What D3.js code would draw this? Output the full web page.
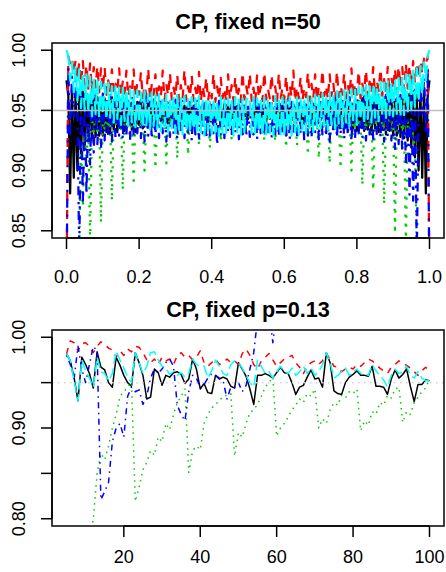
<!DOCTYPE html>
<html>
<head>
<meta charset="utf-8">
<script src="https://cdn.jsdelivr.net/npm/d3@7"></script>
<style>
  body { margin: 0; background: #fff; }
  svg { display: block; }
  text { font-family: "Liberation Sans", Arial, Helvetica, sans-serif; fill: #000; }
</style>
</head>
<body>
<script>
var width = 446,
    height = 572;

// ---- top panel: coverage vs p, n = 50 (p read every 0.005) ----
var pGrid = d3.range(0, 201).map(function (k) { return k / 200; });

var blackN50 = [
  .975,.962,.881,.968,.894,.965,.900,.963,.911,.966,
  .919,.964,.925,.962,.927,.960,.928,.961,.929,.959,
  .929,.960,.932,.958,.930,.961,.934,.957,.932,.959,
  .936,.958,.933,.960,.937,.956,.934,.958,.932,.957,
  .938,.959,.935,.956,.939,.958,.936,.955,.940,.957,
  .937,.958,.941,.955,.938,.957,.936,.954,.940,.956,
  .942,.955,.939,.957,.941,.954,.938,.956,.942,.953,
  .939,.956,.943,.954,.940,.955,.942,.953,.939,.956,
  .943,.954,.940,.955,.944,.953,.941,.956,.943,.954,
  .940,.955,.944,.953,.942,.956,.941,.954,.945,.953,
  .943,
  .953,.945,.954,.941,.956,.942,.953,.944,.955,.940,
  .953,.943,.956,.941,.953,.944,.955,.940,.954,.943,
  .956,.939,.953,.942,.955,.940,.954,.943,.957,.939,
  .956,.942,.953,.938,.957,.941,.954,.939,.955,.942,
  .957,.940,.955,.936,.958,.939,.956,.935,.959,.937,
  .957,.940,.954,.936,.958,.938,.956,.935,.959,.933,
  .958,.936,.960,.933,.957,.934,.961,.930,.958,.935,
  .959,.932,.957,.934,.961,.930,.958,.933,.960,.929,
  .959,.929,.961,.928,.960,.927,.962,.925,.964,.919,
  .966,.911,.963,.900,.965,.894,.968,.881,.962,.975
];

var redN50 = [
  .800,.995,.988,.993,.980,.992,.976,.990,.972,.991,
  .970,.988,.968,.989,.966,.986,.969,.987,.965,.985,
  .967,.986,.963,.975,.965,.984,.962,.972,.966,.985,
  .962,.974,.964,.983,.961,.970,.965,.984,.960,.973,
  .963,.982,.960,.971,.962,.985,.959,.972,.963,.980,
  .960,.970,.961,.983,.958,.972,.962,.981,.959,.969,
  .961,.980,.958,.971,.960,.984,.958,.970,.961,.979,
  .958,.969,.960,.982,.957,.971,.961,.978,.958,.968,
  .960,.981,.957,.970,.959,.977,.960,.969,.957,.980,
  .959,.971,.958,.978,.960,.968,.957,.982,.959,.970,
  .962,
  .981,.958,.969,.957,.979,.960,.970,.958,.982,.959,
  .968,.960,.980,.958,.970,.957,.981,.960,.969,.959,
  .979,.958,.971,.961,.983,.957,.970,.960,.978,.958,
  .969,.961,.982,.958,.972,.960,.980,.958,.970,.961,
  .984,.962,.971,.959,.980,.962,.973,.958,.983,.961,
  .971,.963,.981,.959,.972,.962,.985,.960,.973,.963,
  .983,.960,.972,.965,.984,.961,.974,.964,.986,.962,
  .975,.966,.985,.962,.976,.965,.986,.963,.978,.967,
  .985,.965,.987,.969,.986,.966,.989,.968,.988,.970,
  .991,.972,.990,.976,.992,.980,.993,.988,.995,.800
];

var greenN50 = [
  .000,.220,.390,.530,.630,.720,.800,.835,.920,.870,.930,.905,.940,
  .838,.944,.932,.947,.930,.945,
  .857,.944,.934,.947,.935,.945,
  .875,.944,.936,.947,.934,.946,
  .884,.945,.935,.948,.937,.946,
  .888,.945,.937,.948,.936,.947,
  .900,.946,.938,.948,.937,.947,
  .902,.946,.939,.949,.938,.947,
  .906,.946,.938,.949,.940,.948,
  .910,.947,.940,.949,.939,.948,
  .913,.947,.941,.950,.940,.948,
  .921,.947,.940,.950,.941,.948,
  .919,.948,.942,.950,.941,.949,
  .924,.948,.941,.950,.942,.949,
  .925,.948,.942,.950,.941,.949,
  .927,.948,.942,.950,
  .941,.949,
  .927,.945,.936,.947,.938,.944,
  .925,.945,.937,.948,.938,.944,
  .924,.946,.936,.948,.939,.944,
  .919,.945,.937,.947,.938,.945,
  .921,.945,.936,.948,.937,.944,
  .913,.946,.936,.947,.938,.944,
  .910,.945,.935,.948,.937,.944,
  .906,.945,.936,.947,.936,.943,
  .902,.944,.935,.947,.937,.943,
  .900,.945,.934,.946,.936,.943,
  .888,.944,.934,.946,.935,.942,
  .884,.944,.933,.946,.934,.942,
  .872,.943,.932,.945,.933,.941,
  .848,.943,.931,.945,.932,.940,
  .836,.942,.930,.944,.928,.920,
  .835,.800,.720,.630,.530,.390,.220,.000
];

var blueN50 = [
  .800,.985,.930,.978,.945,.975,.950,.830,.968,.875,
  .965,.880,.962,.905,.966,.915,.963,.922,.960,.918,
  .964,.925,.961,.928,.963,.924,.960,.927,.962,.929,
  .959,.926,.961,.930,.958,.925,.962,.928,.957,.931,
  .960,.927,.958,.924,.961,.929,.957,.926,.959,.930,
  .956,.927,.960,.931,.957,.924,.958,.928,.955,.930,
  .959,.926,.956,.932,.958,.927,.955,.929,.957,.925,
  .954,.930,.958,.927,.955,.931,.957,.926,.954,.929,
  .957,.931,.955,.921,.958,.930,.954,.927,.956,.932,
  .953,.929,.957,.931,.955,.926,.958,.930,.954,.928,
  .956,
  .928,.954,.930,.958,.926,.955,.931,.957,.929,.953,
  .932,.956,.927,.954,.930,.958,.928,.955,.931,.957,
  .929,.954,.926,.957,.931,.955,.927,.958,.930,.954,
  .925,.957,.929,.955,.927,.958,.932,.956,.926,.959,
  .930,.955,.928,.958,.924,.957,.931,.960,.927,.956,
  .930,.959,.926,.957,.929,.961,.924,.958,.927,.960,
  .931,.957,.928,.962,.925,.958,.930,.961,.926,.959,
  .929,.963,.927,.960,.924,.963,.928,.961,.925,.964,
  .918,.960,.922,.963,.915,.966,.905,.962,.880,.965,
  .875,.968,.830,.950,.975,.945,.978,.930,.985,.800
];

var cyanN50 = [
  1.00,.995,.975,.990,.965,.986,.958,.984,.952,.982,
  .950,.980,.948,.978,.945,.977,.947,.975,.944,.974,
  .946,.972,.942,.973,.944,.970,.940,.971,.943,.969,
  .938,.970,.941,.967,.937,.968,.940,.966,.936,.967,
  .939,.965,.935,.966,.938,.964,.934,.965,.937,.963,
  .935,.964,.933,.962,.936,.963,.932,.961,.935,.962,
  .931,.963,.934,.960,.930,.962,.933,.959,.931,.961,
  .934,.960,.930,.962,.932,.958,.929,.961,.933,.959,
  .930,.960,.932,.958,.929,.961,.931,.959,.930,.960,
  .933,.958,.929,.961,.931,.959,.930,.960,.932,.958,
  .962,
  .959,.931,.961,.930,.960,.932,.958,.929,.961,.930,
  .960,.931,.959,.929,.962,.932,.958,.930,.961,.930,
  .959,.933,.961,.929,.958,.932,.962,.930,.960,.934,
  .961,.931,.962,.935,.961,.932,.963,.936,.962,.935,
  .964,.937,.963,.934,.965,.938,.964,.935,.966,.939,
  .965,.936,.967,.940,.966,.937,.968,.941,.967,.938,
  .970,.942,.969,.939,.971,.943,.970,.940,.972,.944,
  .971,.941,.974,.945,.973,.942,.975,.946,.974,.945,
  .976,.947,.977,.944,.978,.946,.980,.948,.981,.951,
  .983,.953,.985,.957,.987,.963,.990,.975,.996,1.00
];

// ---- bottom panel: coverage vs n, p = 0.13 ----
var nGrid = d3.range(5, 101);

var blackP13 = [
  .982,.974,.955,.930,.978,.970,.960,.944,.984,.967,
  .964,.950,.945,.978,.969,.958,.950,.946,.983,.972,
  .958,.932,.934,.965,.961,.947,.958,.956,.961,.962,
  .959,.949,.954,.976,.965,.943,.949,.939,.938,.958,
  .954,.956,.954,.946,.944,.972,.965,.957,.943,.926,
  .958,.958,.960,.958,.955,.961,.967,.961,.960,.950,
  .937,.945,.947,.956,.964,.954,.955,.945,.983,.972,
  .941,.938,.937,.950,.956,.959,.963,.958,.958,.957,
  .968,.946,.946,.945,.937,.954,.964,.955,.959,.965,
  .946,.929,.948,.948,.953,.952
];

var redP13 = [
  .982,.996,.994,.985,.993,.994,.990,.983,.990,.995,
  .992,.988,.986,.978,.985,.980,.987,.984,.990,.989,
  .983,.975,.972,.976,.970,.978,.974,.976,.970,.980,
  .983,.978,.980,.975,.978,.985,.972,.968,.972,.976,
  .970,.972,.976,.972,.974,.970,.982,.987,.980,.970,
  .965,.974,.978,.982,.975,.968,.972,.976,.978,.980,
  .972,.967,.960,.968,.972,.974,.970,.974,.982,.976,
  .968,.967,.962,.965,.967,.965,.970,.968,.972,.976,
  .974,.970,.966,.963,.960,.967,.970,.974,.972,.969,
  .966,.962,.958,.963,.967,.963
];

var greenP13 = [
  .600,.660,.700,.720,.740,.760,.780,.799,.850,.872,
  .865,.880,.900,.915,.935,.940,.945,.950,.819,.835,
  .854,.862,.875,.870,.890,.885,.905,.898,.915,.928,
  .935,.943,.851,.875,.880,.876,.905,.915,.922,.926,
  .930,.935,.936,.938,.869,.895,.890,.905,.917,.920,
  .926,.935,.945,.950,.956,.891,.900,.905,.912,.920,
  .925,.932,.928,.938,.935,.943,.900,.910,.905,.920,
  .928,.925,.936,.933,.940,.938,.943,.897,.908,.903,
  .918,.915,.928,.925,.936,.933,.943,.945,.906,.918,
  .915,.928,.934,.940,.944,.954
];

// blue leaves the plotted range after n = 60
var blueP13 = [
  .980,.970,.955,.990,.965,.950,.970,.990,.985,.821,
  .830,.840,.885,.900,.905,.890,.935,.945,.940,.942,
  .926,.935,.955,.965,.960,.965,.972,.976,.968,.925,
  .915,.908,.940,.958,.955,.944,.948,.955,.960,.958,
  .955,.952,.932,.945,.945,.950,.940,.947,.965,.983,
  1.02,1.03,1.03,1.03,.994,1.03,null,null,null,null,
  null,null,null,null,null,null,null,null,null,null,
  null,null,null,null,null,null,null,null,null,null,
  null,null,null,null,null,null,null,null,null,null,
  null,null,null,null,null,null
];

var cyanP13 = [
  .982,.974,.952,.930,.975,.963,.955,.945,.978,.962,
  .960,.952,.960,.985,.975,.966,.956,.950,.983,.972,
  .960,.968,.983,.984,.975,.968,.966,.959,.962,.958,
  .961,.956,.960,.976,.970,.968,.968,.955,.963,.975,
  .968,.960,.958,.970,.974,.972,.966,.958,.950,.945,
  .975,.968,.960,.962,.955,.962,.968,.962,.960,.966,
  .958,.962,.968,.960,.966,.958,.962,.970,.983,.972,
  .955,.958,.962,.966,.958,.962,.965,.960,.960,.958,
  .970,.963,.958,.953,.945,.958,.965,.960,.962,.968,
  .958,.955,.962,.955,.952,.952
];

var xTicksTop = [0, 0.2, 0.4, 0.6, 0.8, 1.0];
var yTicksTop = [0.85, 0.90, 0.95, 1.00];
var yLabelsTop = [0.85, 0.90, 0.95, 1.00];
var xTicksBot = [20, 40, 60, 80, 100];
var yTicksBot = [0.80, 0.85, 0.90, 0.95, 1.00];
var yLabelsBot = [0.80, 0.90, 1.00];

// R's default palette 1..5 and lty 1..5
var colors = ["#000000", "#FF0000", "#00CD00", "#0000FF", "#00FFFF"];
var dashes = [null, [4, 4], [1, 3], [1, 3, 4, 3], [7, 3]];
var unit = 1.5;   // device scale (px per R line-width unit)

var svg = d3.select("body").append("svg")
    .attr("width", width)
    .attr("height", height);

function padLim(lim) {
  var r = lim[1] - lim[0];
  return [lim[0] - 0.04 * r, lim[1] + 0.04 * r];
}

function drawPanel(o) {
  var left = 52, right = 444;
  var x = d3.scaleLinear().domain(padLim(o.xlim)).range([left, right]);
  var y = d3.scaleLinear().domain(padLim(o.ylim)).range([o.bottom, o.top]);

  var g = svg.append("g");

  g.append("clipPath").attr("id", o.id)
    .append("rect")
    .attr("x", left).attr("y", o.top)
    .attr("width", right - left).attr("height", o.bottom - o.top);

  var plot = g.append("g").attr("clip-path", "url(#" + o.id + ")");

  var line = d3.line()
      .defined(function (d) { return d[1] != null; })
      .x(function (d) { return x(d[0]); })
      .y(function (d) { return y(d[1]); });

  o.series.forEach(function (vals, i) {
    var pts = o.xs.map(function (v, j) { return [v, vals[j]]; });
    var lw = o.lwd * unit;
    plot.append("path")
      .datum(pts)
      .attr("d", line)
      .attr("fill", "none")
      .attr("stroke", colors[i])
      .attr("stroke-width", lw)
      .attr("stroke-linejoin", "round")
      .attr("stroke-dasharray", dashes[i] ? dashes[i].map(function (d) { return d * lw; }).join(",") : null);
  });

  // reference line at 0.95
  plot.append("line")
    .attr("x1", left).attr("x2", right)
    .attr("y1", y(0.95)).attr("y2", y(0.95))
    .attr("stroke", o.refColor)
    .attr("stroke-width", o.refWidth)
    .attr("stroke-dasharray", o.refDash);

  // box
  g.append("rect")
    .attr("x", left).attr("y", o.top)
    .attr("width", right - left).attr("height", o.bottom - o.top)
    .attr("fill", "none").attr("stroke", "#000").attr("stroke-width", 1.5);

  // x axis
  var xa = g.append("g");
  xa.append("line")
    .attr("x1", x(o.xTicks[0])).attr("x2", x(o.xTicks[o.xTicks.length - 1]))
    .attr("y1", o.bottom).attr("y2", o.bottom)
    .attr("stroke", "#000").attr("stroke-width", 1.5);
  xa.selectAll("line.tick").data(o.xTicks).enter().append("line")
    .attr("class", "tick")
    .attr("x1", function (d) { return x(d); }).attr("x2", function (d) { return x(d); })
    .attr("y1", o.bottom).attr("y2", o.bottom + 11)
    .attr("stroke", "#000").attr("stroke-width", 1.5);
  xa.selectAll("text").data(o.xTicks).enter().append("text")
    .attr("x", function (d) { return x(d); })
    .attr("y", o.xLabelY)
    .attr("text-anchor", "middle")
    .attr("font-size", 18)
    .text(o.xFormat);

  // y axis
  var ya = g.append("g");
  ya.append("line")
    .attr("x1", left).attr("x2", left)
    .attr("y1", y(o.yTicks[0])).attr("y2", y(o.yTicks[o.yTicks.length - 1]))
    .attr("stroke", "#000").attr("stroke-width", 1.5);
  ya.selectAll("line.tick").data(o.yTicks).enter().append("line")
    .attr("class", "tick")
    .attr("x1", left).attr("x2", left - 11)
    .attr("y1", function (d) { return y(d); }).attr("y2", function (d) { return y(d); })
    .attr("stroke", "#000").attr("stroke-width", 1.5);
  ya.selectAll("text").data(o.yLabels).enter().append("text")
    .attr("transform", function (d) { return "translate(25," + y(d) + ") rotate(-90)"; })
    .attr("text-anchor", "middle")
    .attr("font-size", 18)
    .text(d3.format(".2f"));

  // title
  g.append("text")
    .attr("x", (left + right) / 2)
    .attr("y", o.titleY)
    .attr("text-anchor", "middle")
    .attr("font-size", 21.6)
    .attr("font-weight", "bold")
    .text(o.title);
}

drawPanel({
  id: "clipTop", top: 43, bottom: 238,
  xlim: [0, 1], ylim: [0.85, 1.0],
  xs: pGrid,
  series: [blackN50, redN50, greenN50, blueN50, cyanN50],
  lwd: 1.5,
  xTicks: xTicksTop, xFormat: d3.format(".1f"), xLabelY: 283,
  yTicks: yTicksTop, yLabels: yLabelsTop,
  refColor: "#BEBEBE", refWidth: 1.5, refDash: null,
  title: "CP, fixed n=50", titleY: 28.5
});

drawPanel({
  id: "clipBot", top: 330, bottom: 526,
  xlim: [5, 100], ylim: [0.80, 1.0],
  xs: nGrid,
  series: [blackP13, redP13, greenP13, blueP13, cyanP13],
  lwd: 1,
  xTicks: xTicksBot, xFormat: d3.format("d"), xLabelY: 563,
  yTicks: yTicksBot, yLabels: yLabelsBot,
  refColor: "#D3D3D3", refWidth: 1.5, refDash: "1.5,4.5",
  title: "CP, fixed p=0.13", titleY: 316.5
});
</script>
</body>
</html>
